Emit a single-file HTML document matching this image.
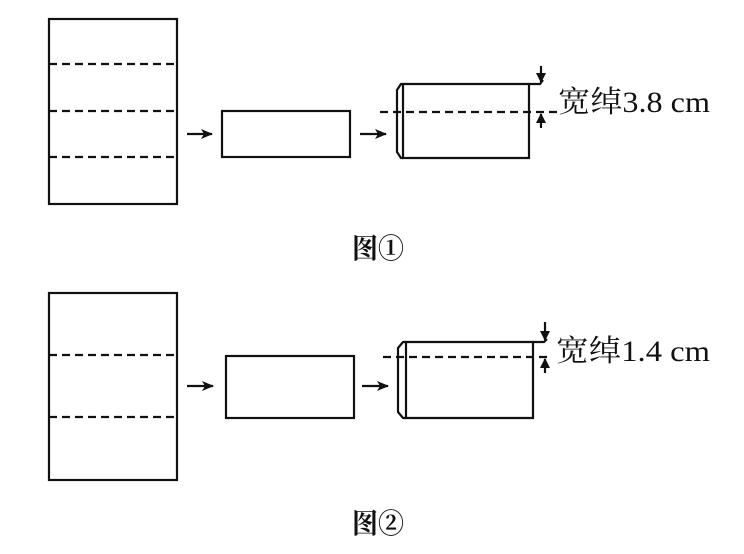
<!DOCTYPE html>
<html><head><meta charset="utf-8"><style>
html,body{margin:0;padding:0;background:#fff;}
svg{display:block;}
text{font-family:"Liberation Serif","Noto Serif CJK SC",serif;fill:#111;}
</style></head><body>
<svg width="744" height="554" viewBox="0 0 744 554" xmlns="http://www.w3.org/2000/svg">
<defs>
<marker id="ah" markerWidth="12" markerHeight="10" refX="11" refY="5" orient="auto" markerUnits="userSpaceOnUse">
<path d="M0,0 L12,5 L0,10 L3,5 Z" fill="#111"/></marker>
<marker id="sh" markerWidth="10" markerHeight="10" refX="9" refY="5" orient="auto" markerUnits="userSpaceOnUse">
<path d="M0,0 L10,5 L0,10 Z" fill="#111"/></marker>
</defs>
<g stroke="#111" stroke-width="2.2" fill="none">
<!-- Fig 1 -->
<rect x="49" y="19" width="128" height="185"/>
<g stroke-dasharray="8,5">
<line x1="49" y1="64" x2="177" y2="64"/>
<line x1="49" y1="111" x2="177" y2="111"/>
<line x1="49" y1="157" x2="177" y2="157"/>
</g>
<line x1="187" y1="134" x2="212" y2="134" marker-end="url(#ah)"/>
<rect x="222" y="111" width="128" height="46"/>
<line x1="360" y1="134" x2="386" y2="134" marker-end="url(#ah)"/>
<path d="M403,84 L529,84 L529,158 L403,158 Z"/>
<path d="M403,84 L401,84 L397,90 L397,152 L401,158 L403,158"/>
<line x1="380" y1="112" x2="557" y2="112" stroke-dasharray="8,5"/>
<path d="M529,84 L540,84 L543,80"/>
<line x1="541" y1="66" x2="541" y2="82" marker-end="url(#sh)"/>
<line x1="541" y1="128" x2="541" y2="114" marker-end="url(#sh)"/>
<!-- Fig 2 -->
<rect x="49" y="293" width="128" height="187"/>
<g stroke-dasharray="8,5">
<line x1="49" y1="355" x2="177" y2="355"/>
<line x1="49" y1="417" x2="177" y2="417"/>
</g>
<line x1="187" y1="386" x2="213" y2="386" marker-end="url(#ah)"/>
<rect x="226" y="356" width="128" height="62"/>
<line x1="362" y1="386" x2="388" y2="386" marker-end="url(#ah)"/>
<path d="M406,342 L533,342 L533,418 L406,418 Z"/>
<path d="M406,342 L403,342 L398,348 L398,412 L403,418 L406,418"/>
<line x1="383" y1="357" x2="547" y2="357" stroke-dasharray="8,5"/>
<path d="M533,342 L544,342 L547,339"/>
<line x1="545" y1="322" x2="545" y2="340" marker-end="url(#sh)"/>
<line x1="545" y1="373" x2="545" y2="359" marker-end="url(#sh)"/>
</g>
<text x="558" y="112" font-size="30" textLength="152" lengthAdjust="spacingAndGlyphs">宽绰3.8 cm</text>
<text x="556" y="361" font-size="30" textLength="154" lengthAdjust="spacingAndGlyphs">宽绰1.4 cm</text>
<text x="352" y="258" font-size="28" font-weight="bold" textLength="52" lengthAdjust="spacingAndGlyphs">图①</text>
<text x="352" y="533" font-size="28" font-weight="bold" textLength="52" lengthAdjust="spacingAndGlyphs">图②</text>
</svg>
</body></html>
